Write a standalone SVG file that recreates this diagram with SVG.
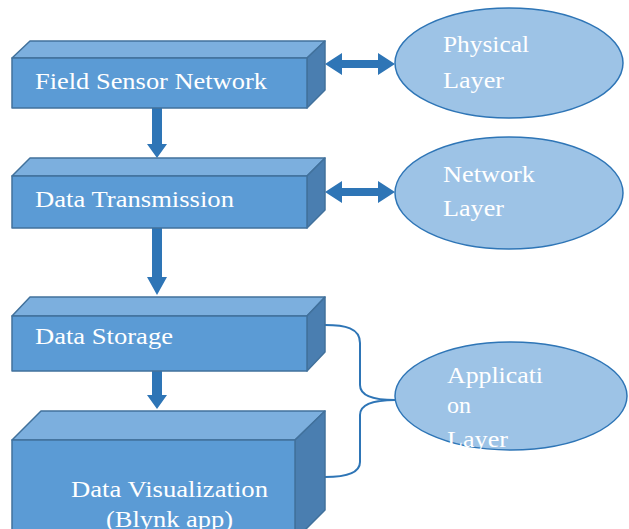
<svg xmlns="http://www.w3.org/2000/svg" width="629" height="529" viewBox="0 0 629 529">
<style>
.front{fill:#5b9bd5;stroke:#41719c;stroke-width:1.5;stroke-linejoin:round}
.top{fill:#7cafde;stroke:#41719c;stroke-width:1.5;stroke-linejoin:round}
.side{fill:#4a7eb0;stroke:#41719c;stroke-width:1.5;stroke-linejoin:round}
.lbl{font-family:"Liberation Serif","Times New Roman",serif;font-size:24px;fill:#ffffff}
.ell{fill:#9dc3e6;stroke:#2e75b6;stroke-width:1.5}
.arr{fill:#2e75b6}
.brace{fill:none;stroke:#2e75b6;stroke-width:2}
</style>
<defs>
<clipPath id="clipLayer"><rect x="440" y="429" width="80" height="22"/></clipPath>
</defs>
<rect width="629" height="529" fill="#ffffff"/>
<g id="connectors">
<polygon class="arr" points="325,64 342,53 342,60 378,60 378,53 395,64 378,75 378,68 342,68 342,75"/>
<polygon class="arr" points="325,192 342,181 342,188 378,188 378,181 395,192 378,203 378,196 342,196 342,203"/>
<polygon class="arr" points="152,108 162,108 162,144 167,144 157,158 147,144 152,144"/>
<polygon class="arr" points="152,228 162,228 162,277 167,277 157,295 147,277 152,277"/>
<polygon class="arr" points="152,371 162,371 162,395 167,395 157,409 147,395 152,395"/>
<path class="brace" d="M325,325 C345,325 360,328 360,343 L360,385 C360,396 375,400 395,400 C375,400 360,404 360,415 L360,462 C360,473 345,477 325,477"/>
</g>
<g id="field-sensor-network">
<polygon class="top" points="12,58 30,41 325,41 307,58"/>
<polygon class="side" points="307,58 325,41 325,90 307,108"/>
<rect class="front" x="12" y="58" width="295" height="50"/>
<text class="lbl" x="35" y="89" textLength="232" lengthAdjust="spacingAndGlyphs">Field Sensor Network</text>
</g>
<g id="data-transmission">
<polygon class="top" points="12,176 30,158 325,158 307,176"/>
<polygon class="side" points="307,176 325,158 325,210 307,228"/>
<rect class="front" x="12" y="176" width="295" height="52"/>
<text class="lbl" x="35" y="207" textLength="199" lengthAdjust="spacingAndGlyphs">Data Transmission</text>
</g>
<g id="data-storage">
<polygon class="top" points="12,316 30,297 325,297 307,316"/>
<polygon class="side" points="307,316 325,297 325,352 307,371"/>
<rect class="front" x="12" y="316" width="295" height="55"/>
<text class="lbl" x="35" y="344" textLength="138" lengthAdjust="spacingAndGlyphs">Data Storage</text>
</g>
<g id="data-visualization">
<polygon class="top" points="12,440 41,411 325,411 295,440"/>
<polygon class="side" points="295,440 325,411 325,510 295,540"/>
<rect class="front" x="12" y="440" width="283" height="100"/>
<text class="lbl" x="71" y="497" textLength="197" lengthAdjust="spacingAndGlyphs">Data Visualization</text>
<text class="lbl" x="106" y="527" textLength="127" lengthAdjust="spacingAndGlyphs">(Blynk app)</text>
</g>
<g id="physical-layer">
<ellipse class="ell" cx="509" cy="63" rx="114" ry="55"/>
<text class="lbl" x="443" y="52" textLength="86" lengthAdjust="spacingAndGlyphs">Physical</text>
<text class="lbl" x="443" y="88" textLength="61" lengthAdjust="spacingAndGlyphs">Layer</text>
</g>
<g id="network-layer">
<ellipse class="ell" cx="509" cy="193" rx="114" ry="56"/>
<text class="lbl" x="443" y="182" textLength="92" lengthAdjust="spacingAndGlyphs">Network</text>
<text class="lbl" x="443" y="216" textLength="61" lengthAdjust="spacingAndGlyphs">Layer</text>
</g>
<g id="application-layer">
<ellipse class="ell" cx="511" cy="396" rx="116" ry="54"/>
<text class="lbl" x="447" y="383" textLength="96" lengthAdjust="spacingAndGlyphs">Applicati</text>
<text class="lbl" x="447" y="413" textLength="24" lengthAdjust="spacingAndGlyphs">on</text>
<text class="lbl" x="447" y="447" textLength="61" lengthAdjust="spacingAndGlyphs" clip-path="url(#clipLayer)">Layer</text>
</g>
</svg>
